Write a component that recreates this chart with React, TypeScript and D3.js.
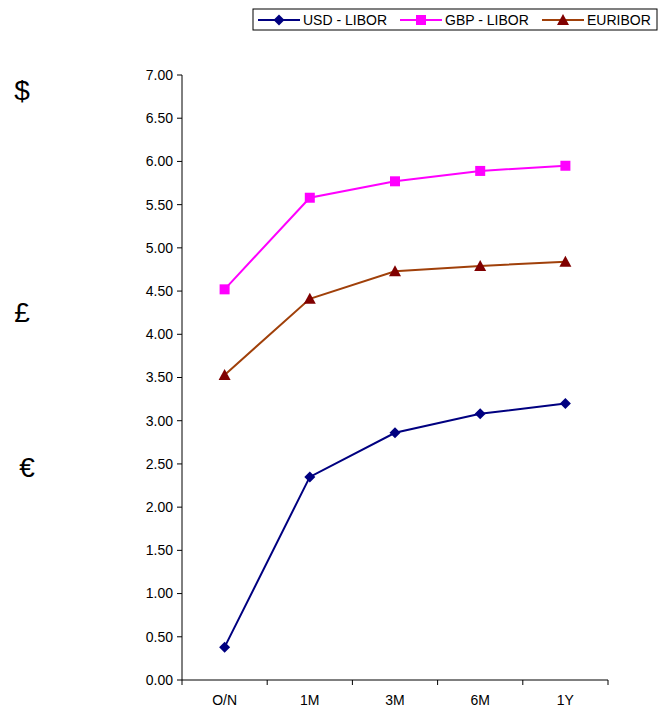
import * as d3 from "d3";

const categories = ["O/N", "1M", "3M", "6M", "1Y"];
const usd = [0.38, 2.35, 2.86, 3.08, 3.2];
const gbp = [4.52, 5.58, 5.77, 5.89, 5.95];
const eur = [3.53, 4.41, 4.73, 4.79, 4.84];
const yTicks = d3.range(0, 7.01, 0.5);

const series = [
  { name: "USD - LIBOR", values: usd, line: "#000080", fill: "#000080", shape: "diamond" },
  { name: "GBP - LIBOR", values: gbp, line: "#FF00FF", fill: "#FF00FF", shape: "square" },
  { name: "EURIBOR", values: eur, line: "#A0400A", fill: "#800000", shape: "triangle" },
];

const W = 659;
const H = 712;
const M = { top: 75, left: 182, right: 51, bottom: 32 };

function Marker({ shape, x, y, fill }: { shape: string; x: number; y: number; fill: string }) {
  if (shape === "square") return <rect x={x - 5} y={y - 5} width={10} height={10} fill={fill} />;
  if (shape === "triangle")
    return <path d={`M${x},${y - 6}L${x + 6},${y + 5}L${x - 6},${y + 5}Z`} fill={fill} />;
  return <path d={`M${x},${y - 5.5}L${x + 5.5},${y}L${x},${y + 5.5}L${x - 5.5},${y}Z`} fill={fill} />;
}

export default function App() {
  const x = d3.scaleBand().domain(categories).range([M.left, W - M.right]);
  const y = d3.scaleLinear().domain([0, 7]).range([H - M.bottom, M.top]);
  const cx = (c: string) => (x(c) ?? 0) + x.bandwidth() / 2;
  const line = d3
    .line<number>()
    .x((_, i) => cx(categories[i]))
    .y((d) => y(d));
  const font = "Liberation Sans, Arial, sans-serif";
  const legendItems = [
    { x: 258, tx: 303 },
    { x: 400, tx: 445 },
    { x: 542, tx: 587 },
  ];

  return (
    <svg width={W} height={H} style={{ position: "absolute", left: 0, top: 0 }} fontFamily={font}>
      <rect width={W} height={H} fill="#fff" />
      {/* y axis */}
      <line x1={M.left} x2={M.left} y1={y(0)} y2={y(7)} stroke="#000" />
      {yTicks.map((t) => (
        <g key={t}>
          <line x1={M.left - 5} x2={M.left} y1={y(t)} y2={y(t)} stroke="#000" />
          <text x={M.left - 9} y={y(t)} dy="0.35em" textAnchor="end" fontSize={14}>
            {t.toFixed(2)}
          </text>
        </g>
      ))}
      {/* x axis */}
      <line x1={M.left} x2={W - M.right} y1={y(0)} y2={y(0)} stroke="#000" />
      {[...categories.map((c) => x(c) ?? 0), W - M.right].map((v, i) => (
        <line key={i} x1={v} x2={v} y1={y(0)} y2={y(0) + 5} stroke="#000" />
      ))}
      {categories.map((c) => (
        <text key={c} x={cx(c)} y={y(0) + 25} textAnchor="middle" fontSize={14}>
          {c}
        </text>
      ))}
      {/* series */}
      {series.map((s) => (
        <g key={s.name}>
          <path d={line(s.values) ?? ""} fill="none" stroke={s.line} strokeWidth={2} />
          {s.values.map((v, i) => (
            <Marker key={i} shape={s.shape} x={cx(categories[i])} y={y(v)} fill={s.fill} />
          ))}
        </g>
      ))}
      {/* currency symbols */}
      <text x={22} y={100} textAnchor="middle" fontSize={28}>$</text>
      <text x={22} y={322} textAnchor="middle" fontSize={28}>£</text>
      <text x={27} y={477} textAnchor="middle" fontSize={28}>€</text>
      {/* legend */}
      <rect x={253} y={9} width={404} height={21} fill="#fff" stroke="#000" />
      {series.map((s, i) => (
        <g key={s.name}>
          <line x1={legendItems[i].x} x2={legendItems[i].x + 42} y1={20} y2={20} stroke={s.line} strokeWidth={2} />
          <Marker shape={s.shape} x={legendItems[i].x + 21} y={20} fill={s.fill} />
          <text x={legendItems[i].tx} y={20} dy="0.35em" fontSize={14}>
            {s.name}
          </text>
        </g>
      ))}
    </svg>
  );
}
